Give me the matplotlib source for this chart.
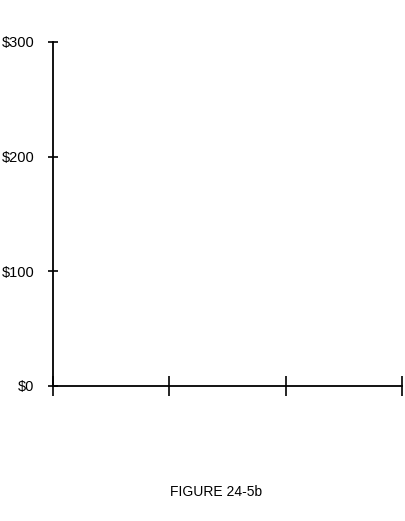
import matplotlib
matplotlib.use("Agg")
from matplotlib import pyplot as plt

plt.rcParams['font.family'] = ['Liberation Sans', 'DejaVu Sans']

# empty chart: only the axes frame
x_ticks = [0, 1, 2, 3]
y_ticks = [0, 100, 200, 300]
y_labels = ['$0', '$100', '$200', '$300']
caption = 'FIGURE 24-5b'

fig = plt.figure(figsize=(4.06, 5.21), dpi=100)
ax = fig.add_axes([53/406, 135/521, 349/406, 344/521])

ax.set_xlim(x_ticks[0], x_ticks[-1])
ax.set_ylim(y_ticks[0], y_ticks[-1])
ax.set_xticks(x_ticks)
ax.set_xticklabels([])
ax.set_yticks(y_ticks)
ax.set_yticklabels(y_labels)

for s in ['top', 'right']:
    ax.spines[s].set_visible(False)
for s in ['left', 'bottom']:
    ax.spines[s].set_linewidth(1.3)
    ax.spines[s].set_color('black')

ax.tick_params(axis='x', direction='inout', length=14, width=1.2)
ax.tick_params(axis='y', direction='inout', length=7, width=1.2, labelsize=10.5, pad=10)

fig.text(216/406, 1 - 492/521, caption, ha='center', va='center', fontsize=10)

fig.savefig('out.png', dpi=100)
